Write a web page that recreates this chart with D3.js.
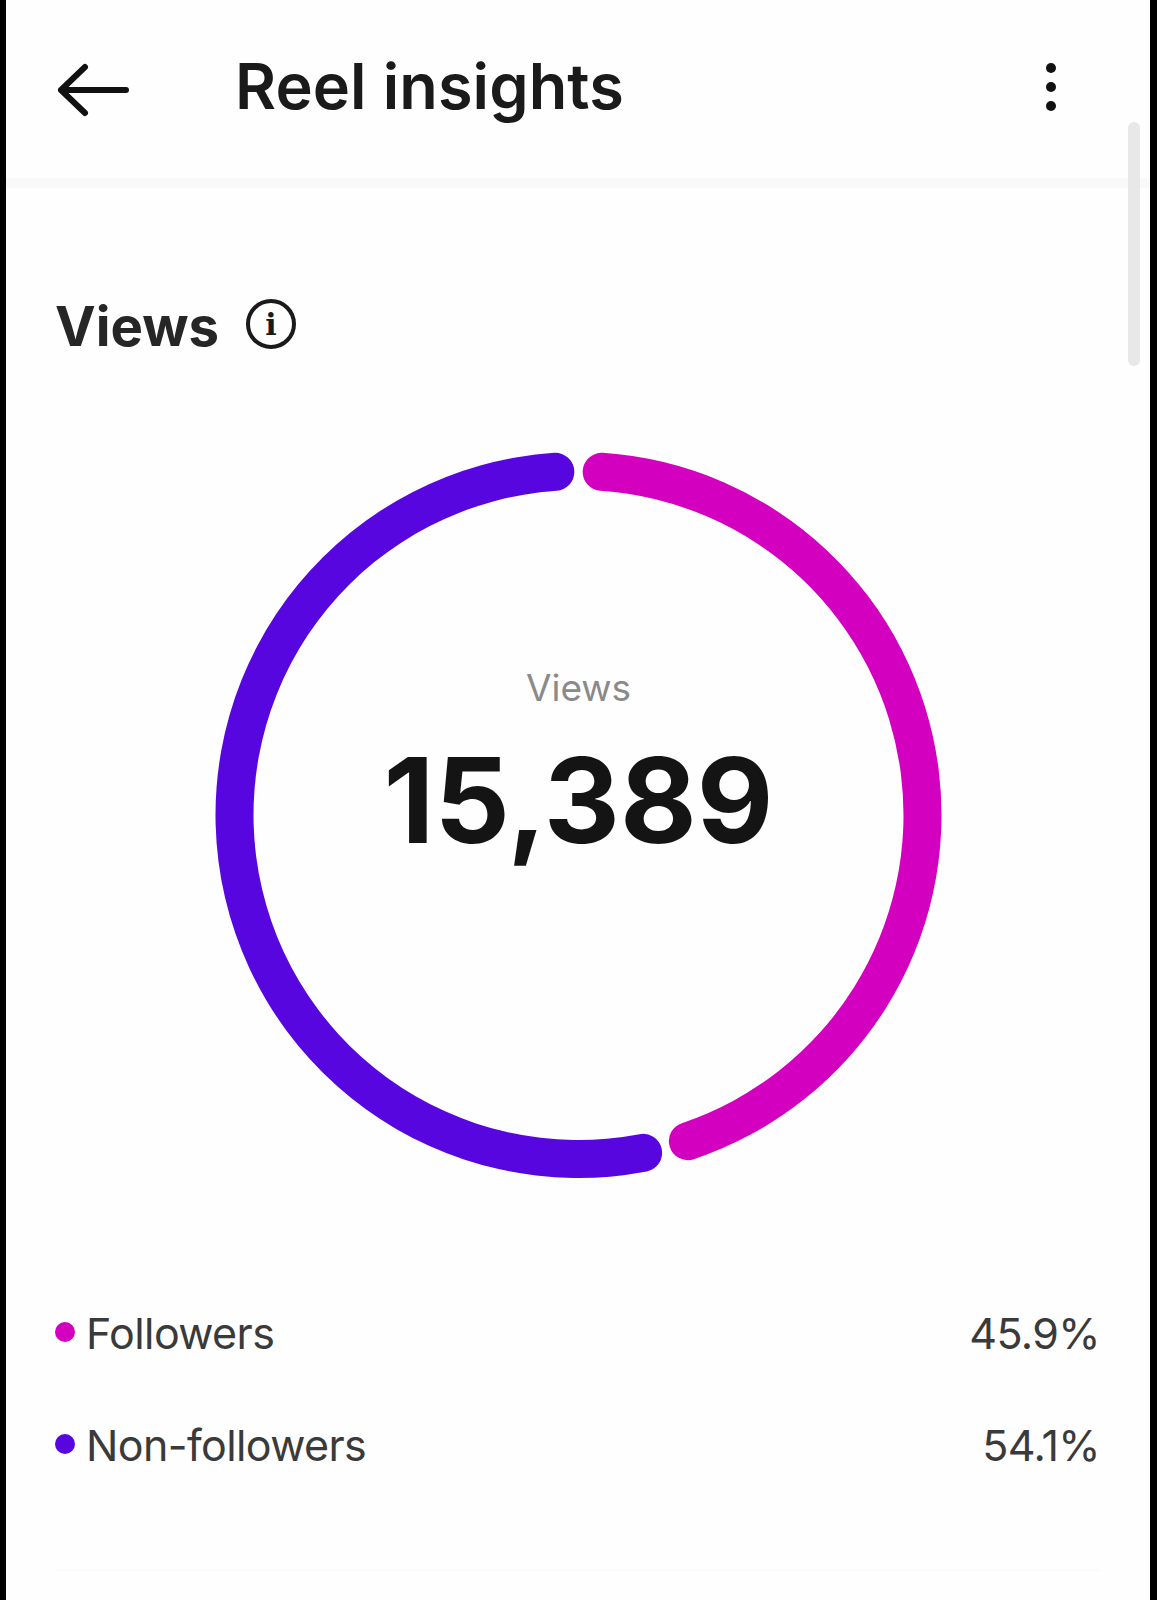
<!DOCTYPE html>
<html>
<head>
<meta charset="utf-8">
<title>Reel insights</title>
<script src="https://cdn.jsdelivr.net/npm/d3@7"></script>
<style>
    html, body { margin: 0; padding: 0; background: #fefefe; }
    svg { display: block; font-family: Inter, "Noto Sans", sans-serif; }
</style>
</head>
<body>
<svg id="chart"></svg>
<script>
var categories = ["Followers", "Non-followers"];
var shares = [45.9, 54.1];
var colors = ["#d400c0", "#5806e0"];
var totalViews = 15389;

var width = 1157, height = 1600;
var svg = d3.select("#chart").attr("width", width).attr("height", height);

svg.append("rect").attr("width", width).attr("height", height).attr("fill", "#fefefe");

// header strip and scrollbar
svg.append("rect").attr("x", 6).attr("y", 178).attr("width", 1144).attr("height", 10).attr("fill", "#f9f9f9");
svg.append("rect").attr("x", 1128).attr("y", 122).attr("width", 12).attr("height", 244).attr("rx", 6).attr("fill", "#e8e8e8");
svg.append("rect").attr("x", 57).attr("y", 1569).attr("width", 1043).attr("height", 2).attr("fill", "#fbfbfb");

// back arrow
svg.append("path")
    .attr("d", "M126,90H61M85,67L61,90L85,113")
    .attr("fill", "none")
    .attr("stroke", "#111")
    .attr("stroke-width", 6)
    .attr("stroke-linecap", "round")
    .attr("stroke-linejoin", "round");

svg.append("text").attr("x", 235).attr("y", 109)
    .attr("font-size", 63).attr("font-weight", 600).attr("letter-spacing", 0.1).attr("fill", "#1a1a1a")
    .text("Reel insights");

svg.selectAll("circle.menu")
    .data([68, 87, 106])
    .enter().append("circle")
    .attr("class", "menu")
    .attr("cx", 1051).attr("cy", function (d) { return d; })
    .attr("r", 5).attr("fill", "#111");

svg.append("text").attr("x", 55).attr("y", 346)
    .attr("font-size", 54.5).attr("font-weight", 700).attr("fill", "#262626")
    .text("Views");

// info icon
var info = svg.append("g").attr("transform", "translate(271,324)");
info.append("circle").attr("r", 23).attr("fill", "none").attr("stroke", "#1a1a1a").attr("stroke-width", 4);
info.append("text").attr("text-anchor", "middle").attr("y", 11)
    .attr("font-size", 30).attr("font-weight", 700).attr("font-family", "DejaVu Serif, serif").attr("fill", "#1a1a1a")
    .text("i");

// donut
var cx = 578.5, cy = 815;
var pie = d3.pie().sort(null).startAngle(0).endAngle(2 * Math.PI).padAngle(0.017);
var arc = d3.arc().innerRadius(325).outerRadius(363).cornerRadius(19);
var donut = svg.append("g").attr("transform", "translate(" + cx + "," + cy + ")");

donut.selectAll("path")
    .data(pie(shares))
    .enter().append("path")
    .attr("d", arc)
    .attr("fill", function (d, i) { return colors[i]; });

donut.append("text").attr("text-anchor", "middle").attr("y", -114)
    .attr("font-size", 37).attr("font-weight", 400).attr("fill", "#8a8a8a")
    .text("Views");

donut.append("text").attr("text-anchor", "middle").attr("y", 28)
    .attr("font-size", 118).attr("font-weight", 700).attr("fill", "#141414")
    .text(d3.format(",")(totalViews));

// legend rows
var rowY = d3.scalePoint().domain(categories).range([1349, 1461]);
var rows = svg.selectAll("g.row")
    .data(categories)
    .enter().append("g")
    .attr("class", "row")
    .attr("transform", function (d) { return "translate(0," + rowY(d) + ")"; });

rows.append("circle").attr("cx", 65).attr("cy", -17).attr("r", 10)
    .attr("fill", function (d, i) { return colors[i]; });

rows.append("text").attr("x", 86)
    .attr("font-size", 43).attr("font-weight", 400).attr("letter-spacing", -0.6).attr("fill", "#3a3a3a")
    .text(function (d) { return d; });

rows.append("text").attr("x", 1100).attr("text-anchor", "end")
    .attr("font-size", 43).attr("font-weight", 400).attr("letter-spacing", -0.6).attr("fill", "#3a3a3a")
    .text(function (d, i) { return shares[i].toFixed(1) + "%"; });

// black bars at the screen edges
svg.append("rect").attr("x", 0).attr("y", 0).attr("width", 6).attr("height", height).attr("fill", "#000");
svg.append("rect").attr("x", 1150).attr("y", 0).attr("width", 7).attr("height", height).attr("fill", "#000");
</script>
</body>
</html>
